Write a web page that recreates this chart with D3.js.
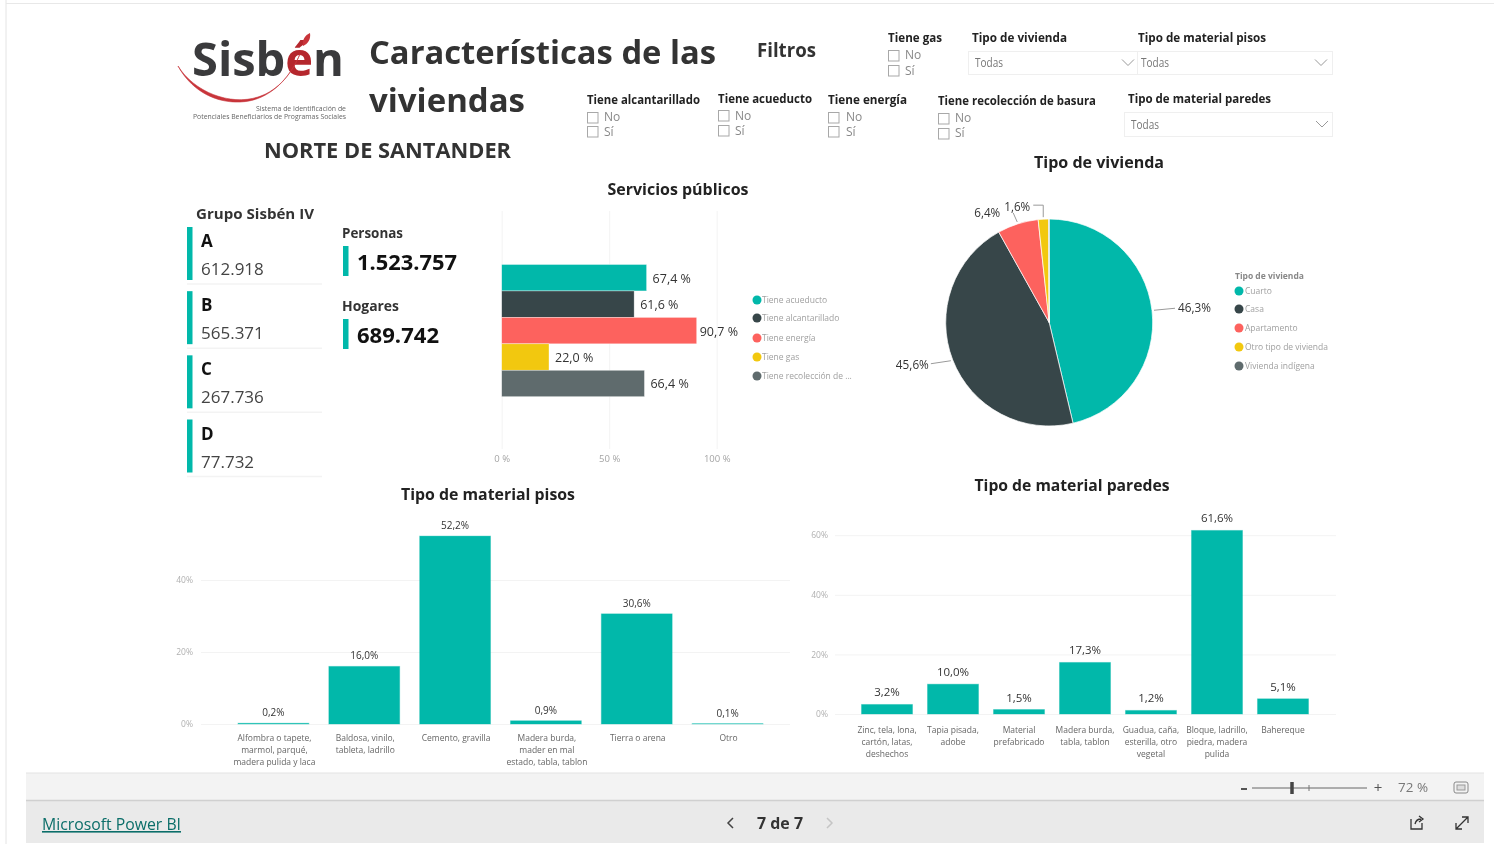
<!DOCTYPE html>
<html lang="es"><head><meta charset="utf-8">
<script src="https://cdn.jsdelivr.net/npm/d3@7"></script>
<style>html,body{margin:0;padding:0;background:#fff;overflow:hidden}svg{display:block;filter:blur(.35px)}</style>
</head><body><svg id="c" width="1494" height="844"></svg>
<script>
const TEAL="#01B8AA",DARK="#374649",RED="#FD625E",YEL="#F2C80F",GRAY="#5F6B6D";
const serviceNames=["Tiene acueducto","Tiene alcantarillado","Tiene energía","Tiene gas","Tiene recolección de ..."];
const serviceValues=[67.4,61.6,90.7,22.0,66.4];
const serviceColors=[TEAL,DARK,RED,YEL,GRAY];
const serviceTicks=[0,50,100];
const housingNames=["Cuarto","Casa","Apartamento","Otro tipo de vivienda","Vivienda indígena"];
const housingValues=[46.3,45.6,6.4,1.6,0.1];
const floorNames=["Alfombra o tapete,|marmol, parqué,|madera pulida y laca","Baldosa, vinilo,|tableta, ladrillo","Cemento, gravilla","Madera burda,|mader en mal|estado, tabla, tablon","Tierra o arena","Otro"];
const floorValues=[0.2,16.0,52.2,0.9,30.6,0.1];
const floorTicks=[0,20,40];
const wallNames=["Zinc, tela, lona,|cartón, latas,|deshechos","Tapia pisada,|adobe","Material|prefabricado","Madera burda,|tabla, tablon","Guadua, caña,|esterilla, otro|vegetal","Bloque, ladrillo,|piedra, madera|pulida","Bahereque"];
const wallValues=[3.2,10.0,1.5,17.3,1.2,61.6,5.1];
const wallTicks=[0,20,40,60];
const groupNames=["A","B","C","D"];
const groupValues=["612.918","565.371","267.736","77.732"];

const svg=d3.select("#c");
const F="'Open Sans','Noto Sans',sans-serif";
function T(x,y,s,o={}){
  const t=svg.append("text").attr("x",x).attr("y",y).text(s)
   .attr("font-family",F).attr("font-size",o.size||12).attr("font-weight",o.weight||400)
   .attr("fill",o.fill||"#333").attr("text-anchor",o.anchor||"start");
  if(o.width)t.attr("textLength",o.width).attr("lengthAdjust","spacingAndGlyphs");
  if(o.underline)t.attr("text-decoration","underline");
  return t;
}
function R(x,y,w,h,fill,stroke){return svg.append("rect").attr("x",x).attr("y",y).attr("width",w).attr("height",h).attr("fill",fill||"none").attr("stroke",stroke||"none");}
function L(x1,y1,x2,y2,c,w){return svg.append("line").attr("x1",x1).attr("y1",y1).attr("x2",x2).attr("y2",y2).attr("stroke",c).attr("stroke-width",w||1);}
function P(d,c,w,f){return svg.append("path").attr("d",d).attr("fill",f||"none").attr("stroke",c||"none").attr("stroke-width",w||1);}

// frame
L(6,0,6,844,"#e4e4e4");L(6,3.5,1494,3.5,"#e8e8e8");

// logo
const logo=T(192,76,"Sisb",{size:47,weight:700,fill:"#3a3a3c",width:152});
logo.append("tspan").attr("fill","#b5272d").text("é");
logo.append("tspan").text("n");
P("M178 66 C194 92 230 106 258 97 C280 90 292 72 300 54 C292 74 272 101 240 102 C212 103 190 88 178 66Z","#c8343a",.6,"#c8343a");
P("M310 33 C311 39 308 44 303 46 C302 40 305 35 310 33Z","none",1,"#c8343a");
T(346,111,"Sistema de Identificación de",{size:6.3,fill:"#666",anchor:"end",width:90});
T(346,119,"Potenciales Beneficiarios de Programas Sociales",{size:6.3,fill:"#666",anchor:"end",width:153});

// headings
T(369,64,"Características de las",{size:33,weight:700,width:347});
T(369,112,"viviendas",{size:33,weight:700,width:156});
T(264,158,"NORTE DE SANTANDER",{size:21,weight:700,width:247});
T(757,57,"Filtros",{size:19,weight:700,width:59});

// slicers
function slicer(x,yH,title,w,box1,box2,tx,t1,t2){
  T(x,yH,title,{size:12,weight:700,fill:"#222",width:w});
  [box1,box2].forEach(y=>R(x+.5,y+.5,10.5,10.5,"#fff","#a8a8a8"));
  T(tx,t1,"No",{size:12,fill:"#888"});T(tx,t2,"Sí",{size:12,fill:"#888"});
}
slicer(888,42,"Tiene gas",54,50,65,905,59,75);
slicer(587,104,"Tiene alcantarillado",113,112,126,604,121,136);
slicer(718,103,"Tiene acueducto",94,110,125,735,120,135);
slicer(828,104,"Tiene energía",79,112,126,846,121,136);
slicer(938,105,"Tiene recolección de basura",158,113,128,955,122,137);
function dropdown(x,w,y,h,tx,chev,title,tw,hy,hx){
  T(hx,hy,title,{size:12,weight:700,fill:"#222",width:tw});
  R(x+.5,y+.5,w,h,"#fff","#efefef");
  T(tx,y+h/2+4.5,"Todas",{size:12,fill:"#777",width:28});
  P(`M${chev-6} ${y+h/2-3} L${chev} ${y+h/2+3} L${chev+6} ${y+h/2-3}`,"#999",1);
}
dropdown(968,169,51,23,975,1128,"Tipo de vivienda",95,42,972);
dropdown(1137,195,51,23,1141,1321,"Tipo de material pisos",128,42,1138);
dropdown(1124,208,112,24,1131,1322,"Tipo de material paredes",143,103,1128);

// group cards
T(196,219,"Grupo Sisbén IV",{size:15,weight:700,width:118});
const cardTop=d3.scalePoint().domain(groupNames).range([227,419.5]);
groupNames.forEach((g,i)=>{
  const y=cardTop(g);
  R(187,y,5.5,53,TEAL);
  T(201,y+20,g,{size:17,weight:700,fill:"#111"});
  T(201,y+48,groupValues[i],{size:17,fill:"#444"});
  L(187,y+57,322,y+57,"#f3f3f3",1.5);
});
// KPI
T(342,238,"Personas",{size:14,weight:700,width:61});
R(343,246,5.5,30,TEAL);
T(357,270,"1.523.757",{size:22,weight:700,fill:"#111",width:100});
T(342,311,"Hogares",{size:14,weight:700,width:57});
R(343,319,5.5,30,TEAL);
T(357,343,"689.742",{size:22,weight:700,fill:"#111",width:82});

// Section titles
T(678,195,"Servicios públicos",{size:16,weight:700,anchor:"middle",fill:"#222",width:141});
T(1099,168,"Tipo de vivienda",{size:16,weight:700,anchor:"middle",fill:"#222",width:130});
T(488,500,"Tipo de material pisos",{size:16,weight:700,anchor:"middle",fill:"#222",width:174});
T(1072,491,"Tipo de material paredes",{size:16,weight:700,anchor:"middle",fill:"#222",width:195});

// Services bar chart
const sx=d3.scaleLinear().domain([0,100]).range([501.7,716.7]);
const sy=d3.scaleBand().domain(serviceNames).range([264.5,396.7]).padding(0);
const sAxis=d3.axisBottom(sx).tickValues(serviceTicks).tickFormat(d=>d+" %").tickSize(-(449-211)).tickPadding(6);
const sg=svg.append("g").attr("transform","translate(0,449)").call(sAxis);
sg.select(".domain").remove();
sg.selectAll("line").attr("stroke","#f3f3f3");
sg.selectAll("text").attr("font-family",F).attr("font-size",9.5).attr("fill","#a5a5a5");
svg.append("g").selectAll("rect").data(serviceNames).join("rect")
  .attr("x",sx(0)).attr("y",d=>sy(d)).attr("height",sy.bandwidth())
  .attr("width",(d,i)=>sx(serviceValues[i])-sx(0)).attr("fill",(d,i)=>serviceColors[i])
  .attr("stroke","#fff").attr("stroke-opacity",.6).attr("stroke-width",.6);
serviceNames.forEach((n,i)=>{
  T(sx(serviceValues[i])+(i==2?3:6),sy(n)+sy.bandwidth()/2+5,d3.format(".1f")(serviceValues[i]).replace(".",",")+" %",{size:12.5,fill:"#333"});
});
const sLegendY=[300,318,338,357,376];
serviceNames.forEach((n,i)=>{
  svg.append("circle").attr("cx",757).attr("cy",sLegendY[i]).attr("r",4.5).attr("fill",serviceColors[i]);
  T(762,sLegendY[i]+3,n,{size:8.5,fill:"#a0a0a0"});
});

// Pie
const pieG=svg.append("g").attr("transform","translate(1049.2,322.5)");
const arcs=d3.pie().sort(null).value(d=>d)(housingValues);
const r=103.5;
const arc=d3.arc().innerRadius(0).outerRadius(r);
pieG.selectAll("path").data(arcs).join("path").attr("d",arc).attr("fill",(d,i)=>serviceColors[i]).attr("stroke","#fff").attr("stroke-width",.7);
const lead=d3.arc().innerRadius(r+2).outerRadius(r+2);
const pieLabels=[
 {i:0,dx:21,dy:-2,tx:3,ty:4,anchor:"start",elbow:false},
 {i:1,dx:-20,dy:3,tx:-2,ty:5,anchor:"end",elbow:false},
 {i:2,dx:-4,dy:-9,tx:-13,ty:4,anchor:"end",elbow:false},
 {i:3,dx:0,dy:-12,tx:-13,ty:6,anchor:"end",elbow:true}];
pieLabels.forEach(p=>{
  const [cx,cy]=lead.centroid(arcs[p.i]);
  const x=1049.2+cx,y=322.5+cy;
  const path=p.elbow?`M${x} ${y}L${x+p.dx} ${y+p.dy}L${x+p.dx-10} ${y+p.dy}`:`M${x} ${y}L${x+p.dx} ${y+p.dy}`;
  P(path,"#9a9a9a",1);
  T(x+p.dx+p.tx,y+p.dy+p.ty,d3.format(".1f")(housingValues[p.i]).replace(".",",")+"%",{size:12,fill:"#333",anchor:p.anchor,width:p.i<2?33:26});
});
T(1235,279,"Tipo de vivienda",{size:8.5,weight:700,fill:"#888"});
const hLegendY=[291,309,328,347,366];
housingNames.forEach((n,i)=>{
  svg.append("circle").attr("cx",1239).attr("cy",hLegendY[i]).attr("r",4.5).attr("fill",serviceColors[i]);
  T(1245,hLegendY[i]+3,n,{size:8.5,fill:"#a0a0a0"});
});

// Column charts
function columns(names,values,ticks,xr,xi,y0,pxPct,gridX,labSize,labGap,ly,yLabX,off){
  const x=d3.scaleBand().domain(names).range(xr).paddingInner(xi).paddingOuter(0);
  const y=d3.scaleLinear().domain([0,ticks[ticks.length-1]]).range([y0,y0-pxPct*ticks[ticks.length-1]]);
  const ax=d3.axisLeft(y).tickValues(ticks).tickFormat(d=>d+"%").tickSize(gridX[0]-gridX[1]).tickPadding(yLabX);
  const g=svg.append("g").attr("transform",`translate(${gridX[0]},0)`).call(ax);
  g.select(".domain").remove();
  g.selectAll("line").attr("stroke","#f3f3f3");
  g.selectAll("text").attr("font-family",F).attr("font-size",8.5).attr("fill","#b0b0b0");
  svg.append("g").selectAll("rect").data(names).join("rect")
    .attr("x",d=>x(d)).attr("width",x.bandwidth())
    .attr("y",(d,i)=>y(values[i])).attr("height",(d,i)=>y0-y(values[i]))
    .attr("fill",TEAL).attr("stroke",TEAL).attr("stroke-opacity",.35).attr("stroke-width",1);
  names.forEach((n,i)=>{
    const cx=x(n)+x.bandwidth()/2;
    T(cx,y(values[i])-labGap,d3.format(".1f")(values[i]).replace(".",",")+"%",{size:labSize,anchor:"middle",fill:"#333"});
    n.split("|").forEach((s,k)=>T(cx+off,ly+k*12,s,{size:8.5,anchor:"middle",fill:"#666"}));
  });
}
columns(floorNames,floorValues,floorTicks,[238,763],.22,724,3.6,[201,790],10,7,741,8,1);
columns(wallNames,wallValues,wallTicks,[861.5,1308.5],.227,714,2.98,[835,1336],11.5,8,733,7,0);

// Footer
R(26,773,1458,27,"#f3f3f3");L(26,773,1484,773,"#e3e3e3",1);
R(26,800,1458,43,"#eaeaea");L(26,800.5,1484,800.5,"#d0d0d0",1.5);
T(42,830,"Microsoft Power BI",{size:16,fill:"#0b6e69",underline:true,width:139});
T(780,829,"7 de 7",{size:16,weight:700,anchor:"middle",fill:"#333",width:46});
P("M733 818 L728 823 L733 828","#444",1.5);
P("M827 818 L832 823 L827 828","#c5c5c5",1.5);
L(1241,789,1247,789,"#555",2);
L(1252,788,1367,788,"#666",1);
L(1292,782,1292,794,"#444",3.5);
L(1309,785,1309,791,"#777",1);
T(1378,793,"+",{size:15,anchor:"middle",fill:"#555"});
T(1398,792,"72 %",{size:13.5,fill:"#777",width:30});
svg.append("rect").attr("x",1454).attr("y",782).attr("width",14).attr("height",11).attr("rx",2).attr("fill","#f3f3f3").attr("stroke","#888");
R(1457,785,8,5,"#ddd","#999");
P("M1411 819 L1411 829 L1422 829 L1422 823 M1415 824 C1416 820 1418 819 1421 819 M1419 816 L1423 819 L1419 822","#333",1.3);
P("M1456 829 L1468 817 M1462 817 L1468 817 L1468 823 M1456 823 L1456 829 L1462 829","#333",1.3);
</script></body></html>
